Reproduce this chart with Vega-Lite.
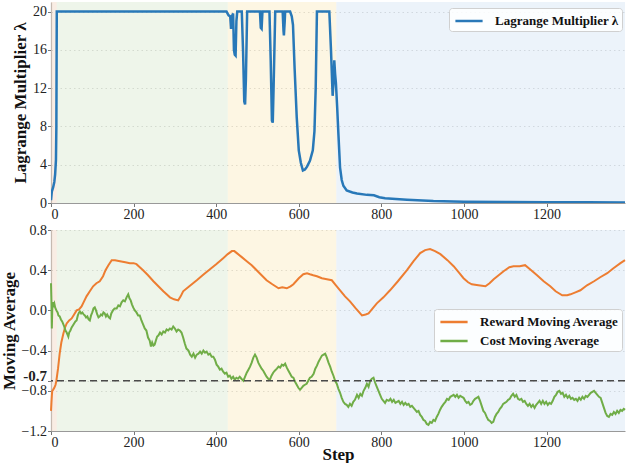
{
  "$schema": "https://vega.github.io/schema/vega-lite/v6.json",
  "padding": {"left": 0, "top": 2, "right": 0, "bottom": 0},
  "background": "white",
  "spacing": 1,
  "datasets": {
    "regions": [
      {"start": 0, "end": 14, "phase": "warmup"},
      {"start": 14, "end": 428, "phase": "explore"},
      {"start": 428, "end": 691, "phase": "transition"},
      {"start": 691, "end": 1390, "phase": "converge"}
    ],
    "lambda": [
      {"step": 0, "value": 0.3}, {"step": 2, "value": 1.2}, {"step": 5, "value": 1.6}, {"step": 8, "value": 2.2}, {"step": 10, "value": 3.0}, {"step": 12, "value": 4.5}, {"step": 13, "value": 8}, {"step": 14, "value": 20},
      {"step": 425, "value": 20}, {"step": 430, "value": 19.6}, {"step": 434, "value": 19.5}, {"step": 436, "value": 18.2}, {"step": 438, "value": 19.5}, {"step": 441, "value": 19.8}, {"step": 443, "value": 16}, {"step": 445, "value": 15.5}, {"step": 447, "value": 15.4}, {"step": 449, "value": 19}, {"step": 451, "value": 20},
      {"step": 462, "value": 20}, {"step": 465, "value": 16}, {"step": 468, "value": 10.6}, {"step": 470, "value": 10.3}, {"step": 472, "value": 13}, {"step": 475, "value": 20},
      {"step": 506, "value": 20}, {"step": 508, "value": 18.3}, {"step": 510, "value": 18.2}, {"step": 512, "value": 20},
      {"step": 529, "value": 20}, {"step": 532, "value": 15}, {"step": 535, "value": 8.6}, {"step": 537, "value": 8.4}, {"step": 539, "value": 12}, {"step": 543, "value": 20},
      {"step": 561, "value": 20}, {"step": 563, "value": 18}, {"step": 564, "value": 17.5}, {"step": 566, "value": 19}, {"step": 567, "value": 20},
      {"step": 579, "value": 20}, {"step": 583, "value": 19.5}, {"step": 586, "value": 18.6}, {"step": 590, "value": 14}, {"step": 595, "value": 9}, {"step": 600, "value": 5.5}, {"step": 605, "value": 4.2}, {"step": 610, "value": 3.4}, {"step": 615, "value": 3.5}, {"step": 620, "value": 3.8}, {"step": 627, "value": 4.4}, {"step": 634, "value": 5.5}, {"step": 638, "value": 7.5}, {"step": 641, "value": 12}, {"step": 644, "value": 20},
      {"step": 674, "value": 20}, {"step": 678, "value": 16}, {"step": 682, "value": 11.2}, {"step": 684, "value": 12.5}, {"step": 686, "value": 14.9}, {"step": 688, "value": 13.5}, {"step": 690, "value": 12.5}, {"step": 693, "value": 10}, {"step": 696, "value": 7.2}, {"step": 700, "value": 3.7}, {"step": 704, "value": 2.4}, {"step": 708, "value": 1.8}, {"step": 716, "value": 1.3}, {"step": 730, "value": 1.1}, {"step": 741, "value": 1.0}, {"step": 765, "value": 0.85}, {"step": 782, "value": 0.8}, {"step": 795, "value": 0.6}, {"step": 809, "value": 0.5}, {"step": 835, "value": 0.42}, {"step": 862, "value": 0.35}, {"step": 900, "value": 0.25}, {"step": 926, "value": 0.2}, {"step": 1000, "value": 0.13}, {"step": 1100, "value": 0.1}, {"step": 1200, "value": 0.08}, {"step": 1300, "value": 0.07}, {"step": 1390, "value": 0.06}
    ],
    "reward": [
      {"step": 0, "value": -1.0}, {"step": 1, "value": -0.92}, {"step": 2, "value": -0.85}, {"step": 3, "value": -0.8}, {"step": 5, "value": -0.79}, {"step": 8, "value": -0.77}, {"step": 11, "value": -0.74}, {"step": 13, "value": -0.7}, {"step": 17, "value": -0.58}, {"step": 21, "value": -0.43}, {"step": 25, "value": -0.32}, {"step": 30, "value": -0.23}, {"step": 34, "value": -0.17}, {"step": 38, "value": -0.13}, {"step": 44, "value": -0.1}, {"step": 50, "value": -0.08}, {"step": 56, "value": -0.04}, {"step": 62, "value": 0.0}, {"step": 68, "value": 0.01}, {"step": 74, "value": 0.04}, {"step": 80, "value": 0.09}, {"step": 86, "value": 0.14}, {"step": 94, "value": 0.19}, {"step": 102, "value": 0.24}, {"step": 110, "value": 0.27}, {"step": 118, "value": 0.29}, {"step": 126, "value": 0.34}, {"step": 132, "value": 0.4}, {"step": 139, "value": 0.45}, {"step": 147, "value": 0.5}, {"step": 155, "value": 0.5}, {"step": 167, "value": 0.49}, {"step": 180, "value": 0.48}, {"step": 191, "value": 0.47}, {"step": 200, "value": 0.47}, {"step": 207, "value": 0.46}, {"step": 215, "value": 0.43}, {"step": 223, "value": 0.4}, {"step": 235, "value": 0.35}, {"step": 248, "value": 0.29}, {"step": 260, "value": 0.24}, {"step": 272, "value": 0.19}, {"step": 280, "value": 0.16}, {"step": 288, "value": 0.13}, {"step": 298, "value": 0.11}, {"step": 308, "value": 0.1}, {"step": 314, "value": 0.14}, {"step": 320, "value": 0.19}, {"step": 335, "value": 0.24}, {"step": 353, "value": 0.3}, {"step": 370, "value": 0.36}, {"step": 385, "value": 0.41}, {"step": 400, "value": 0.46}, {"step": 417, "value": 0.52}, {"step": 428, "value": 0.56}, {"step": 438, "value": 0.59}, {"step": 444, "value": 0.59}, {"step": 450, "value": 0.57}, {"step": 462, "value": 0.53}, {"step": 474, "value": 0.49}, {"step": 486, "value": 0.45}, {"step": 498, "value": 0.4}, {"step": 510, "value": 0.35}, {"step": 522, "value": 0.3}, {"step": 536, "value": 0.26}, {"step": 551, "value": 0.22}, {"step": 560, "value": 0.23}, {"step": 571, "value": 0.22}, {"step": 580, "value": 0.24}, {"step": 587, "value": 0.26}, {"step": 600, "value": 0.32}, {"step": 611, "value": 0.36}, {"step": 620, "value": 0.37}, {"step": 627, "value": 0.36}, {"step": 635, "value": 0.35}, {"step": 644, "value": 0.34}, {"step": 656, "value": 0.32}, {"step": 668, "value": 0.31}, {"step": 680, "value": 0.3}, {"step": 690, "value": 0.25}, {"step": 700, "value": 0.2}, {"step": 712, "value": 0.14}, {"step": 724, "value": 0.09}, {"step": 738, "value": 0.02}, {"step": 753, "value": -0.05}, {"step": 762, "value": -0.04}, {"step": 769, "value": -0.03}, {"step": 779, "value": 0.02}, {"step": 789, "value": 0.07}, {"step": 805, "value": 0.13}, {"step": 821, "value": 0.2}, {"step": 840, "value": 0.29}, {"step": 862, "value": 0.4}, {"step": 878, "value": 0.49}, {"step": 894, "value": 0.57}, {"step": 906, "value": 0.6}, {"step": 918, "value": 0.61}, {"step": 930, "value": 0.59}, {"step": 943, "value": 0.56}, {"step": 960, "value": 0.5}, {"step": 975, "value": 0.44}, {"step": 987, "value": 0.38}, {"step": 999, "value": 0.32}, {"step": 1010, "value": 0.28}, {"step": 1019, "value": 0.26}, {"step": 1035, "value": 0.25}, {"step": 1052, "value": 0.24}, {"step": 1062, "value": 0.27}, {"step": 1072, "value": 0.31}, {"step": 1084, "value": 0.35}, {"step": 1096, "value": 0.39}, {"step": 1110, "value": 0.43}, {"step": 1120, "value": 0.44}, {"step": 1135, "value": 0.44}, {"step": 1148, "value": 0.45}, {"step": 1160, "value": 0.41}, {"step": 1177, "value": 0.35}, {"step": 1193, "value": 0.29}, {"step": 1209, "value": 0.24}, {"step": 1222, "value": 0.19}, {"step": 1238, "value": 0.15}, {"step": 1250, "value": 0.15}, {"step": 1258, "value": 0.16}, {"step": 1270, "value": 0.18}, {"step": 1282, "value": 0.2}, {"step": 1298, "value": 0.25}, {"step": 1315, "value": 0.29}, {"step": 1330, "value": 0.33}, {"step": 1347, "value": 0.37}, {"step": 1362, "value": 0.42}, {"step": 1379, "value": 0.47}, {"step": 1390, "value": 0.5}
    ],
    "cost": [
      {"step": 0, "value": 0.27}, {"step": 1, "value": 0.1}, {"step": 2, "value": -0.18}, {"step": 3, "value": 0.0}, {"step": 4, "value": 0.08}, {"step": 6, "value": 0.05}, {"step": 8, "value": 0.07}, {"step": 10, "value": 0.03}, {"step": 13, "value": 0.0}, {"step": 16, "value": -0.02}, {"step": 18, "value": -0.05}, {"step": 21, "value": -0.06}, {"step": 24, "value": -0.09}, {"step": 27, "value": -0.11}, {"step": 29, "value": -0.13}, {"step": 32, "value": -0.16}, {"step": 35, "value": -0.2}, {"step": 38, "value": -0.22}, {"step": 40, "value": -0.24}, {"step": 42, "value": -0.26}, {"step": 44, "value": -0.22}, {"step": 47, "value": -0.2}, {"step": 50, "value": -0.17}, {"step": 53, "value": -0.15}, {"step": 56, "value": -0.13}, {"step": 59, "value": -0.11}, {"step": 62, "value": -0.1}, {"step": 65, "value": -0.05}, {"step": 68, "value": -0.02}, {"step": 70, "value": -0.01}, {"step": 73, "value": -0.03}, {"step": 76, "value": -0.02}, {"step": 79, "value": -0.04}, {"step": 82, "value": -0.05}, {"step": 85, "value": -0.07}, {"step": 88, "value": -0.06}, {"step": 91, "value": -0.09}, {"step": 94, "value": -0.1}, {"step": 97, "value": -0.05}, {"step": 100, "value": -0.02}, {"step": 103, "value": 0.02}, {"step": 106, "value": 0.03}, {"step": 109, "value": 0.0}, {"step": 112, "value": -0.04}, {"step": 115, "value": -0.07}, {"step": 118, "value": -0.06}, {"step": 121, "value": -0.04}, {"step": 124, "value": -0.05}, {"step": 127, "value": -0.02}, {"step": 130, "value": -0.03}, {"step": 133, "value": -0.06}, {"step": 136, "value": -0.04}, {"step": 140, "value": -0.07}, {"step": 143, "value": -0.08}, {"step": 146, "value": -0.03}, {"step": 150, "value": 0.0}, {"step": 154, "value": 0.02}, {"step": 159, "value": 0.02}, {"step": 163, "value": 0.05}, {"step": 167, "value": 0.04}, {"step": 171, "value": 0.08}, {"step": 175, "value": 0.1}, {"step": 179, "value": 0.09}, {"step": 183, "value": 0.13}, {"step": 187, "value": 0.16}, {"step": 190, "value": 0.12}, {"step": 193, "value": 0.1}, {"step": 196, "value": 0.06}, {"step": 199, "value": 0.03}, {"step": 203, "value": 0.0}, {"step": 207, "value": -0.02}, {"step": 211, "value": -0.05}, {"step": 215, "value": -0.05}, {"step": 219, "value": -0.1}, {"step": 223, "value": -0.14}, {"step": 227, "value": -0.18}, {"step": 231, "value": -0.2}, {"step": 235, "value": -0.27}, {"step": 239, "value": -0.3}, {"step": 242, "value": -0.36}, {"step": 245, "value": -0.32}, {"step": 248, "value": -0.35}, {"step": 251, "value": -0.34}, {"step": 254, "value": -0.3}, {"step": 257, "value": -0.26}, {"step": 260, "value": -0.25}, {"step": 264, "value": -0.22}, {"step": 268, "value": -0.24}, {"step": 272, "value": -0.21}, {"step": 276, "value": -0.22}, {"step": 280, "value": -0.19}, {"step": 284, "value": -0.2}, {"step": 288, "value": -0.18}, {"step": 292, "value": -0.19}, {"step": 296, "value": -0.16}, {"step": 300, "value": -0.18}, {"step": 304, "value": -0.21}, {"step": 308, "value": -0.19}, {"step": 312, "value": -0.2}, {"step": 316, "value": -0.22}, {"step": 320, "value": -0.27}, {"step": 324, "value": -0.33}, {"step": 328, "value": -0.38}, {"step": 333, "value": -0.4}, {"step": 337, "value": -0.44}, {"step": 341, "value": -0.46}, {"step": 345, "value": -0.43}, {"step": 349, "value": -0.47}, {"step": 353, "value": -0.44}, {"step": 357, "value": -0.43}, {"step": 361, "value": -0.41}, {"step": 365, "value": -0.43}, {"step": 369, "value": -0.4}, {"step": 373, "value": -0.42}, {"step": 377, "value": -0.41}, {"step": 381, "value": -0.44}, {"step": 385, "value": -0.43}, {"step": 389, "value": -0.46}, {"step": 393, "value": -0.46}, {"step": 397, "value": -0.49}, {"step": 401, "value": -0.54}, {"step": 405, "value": -0.56}, {"step": 409, "value": -0.59}, {"step": 413, "value": -0.58}, {"step": 417, "value": -0.61}, {"step": 421, "value": -0.63}, {"step": 425, "value": -0.62}, {"step": 429, "value": -0.66}, {"step": 433, "value": -0.65}, {"step": 437, "value": -0.68}, {"step": 441, "value": -0.66}, {"step": 445, "value": -0.69}, {"step": 449, "value": -0.67}, {"step": 453, "value": -0.68}, {"step": 457, "value": -0.66}, {"step": 461, "value": -0.68}, {"step": 466, "value": -0.7}, {"step": 470, "value": -0.66}, {"step": 474, "value": -0.62}, {"step": 478, "value": -0.59}, {"step": 482, "value": -0.56}, {"step": 486, "value": -0.52}, {"step": 490, "value": -0.47}, {"step": 494, "value": -0.44}, {"step": 498, "value": -0.47}, {"step": 502, "value": -0.52}, {"step": 506, "value": -0.55}, {"step": 510, "value": -0.58}, {"step": 514, "value": -0.6}, {"step": 518, "value": -0.63}, {"step": 522, "value": -0.66}, {"step": 526, "value": -0.68}, {"step": 530, "value": -0.69}, {"step": 534, "value": -0.65}, {"step": 538, "value": -0.62}, {"step": 542, "value": -0.6}, {"step": 547, "value": -0.58}, {"step": 551, "value": -0.56}, {"step": 555, "value": -0.57}, {"step": 559, "value": -0.54}, {"step": 563, "value": -0.55}, {"step": 567, "value": -0.53}, {"step": 571, "value": -0.57}, {"step": 575, "value": -0.6}, {"step": 579, "value": -0.63}, {"step": 583, "value": -0.66}, {"step": 587, "value": -0.67}, {"step": 591, "value": -0.71}, {"step": 595, "value": -0.74}, {"step": 599, "value": -0.77}, {"step": 603, "value": -0.79}, {"step": 607, "value": -0.77}, {"step": 611, "value": -0.75}, {"step": 615, "value": -0.74}, {"step": 619, "value": -0.73}, {"step": 623, "value": -0.7}, {"step": 627, "value": -0.67}, {"step": 631, "value": -0.66}, {"step": 636, "value": -0.63}, {"step": 640, "value": -0.58}, {"step": 644, "value": -0.55}, {"step": 648, "value": -0.51}, {"step": 652, "value": -0.48}, {"step": 656, "value": -0.45}, {"step": 660, "value": -0.44}, {"step": 664, "value": -0.43}, {"step": 668, "value": -0.47}, {"step": 672, "value": -0.52}, {"step": 676, "value": -0.56}, {"step": 680, "value": -0.61}, {"step": 684, "value": -0.65}, {"step": 688, "value": -0.7}, {"step": 692, "value": -0.73}, {"step": 696, "value": -0.78}, {"step": 700, "value": -0.82}, {"step": 704, "value": -0.87}, {"step": 708, "value": -0.91}, {"step": 712, "value": -0.93}, {"step": 716, "value": -0.94}, {"step": 720, "value": -0.96}, {"step": 724, "value": -0.93}, {"step": 728, "value": -0.95}, {"step": 732, "value": -0.91}, {"step": 736, "value": -0.89}, {"step": 741, "value": -0.84}, {"step": 745, "value": -0.87}, {"step": 749, "value": -0.83}, {"step": 753, "value": -0.85}, {"step": 757, "value": -0.8}, {"step": 761, "value": -0.77}, {"step": 765, "value": -0.73}, {"step": 769, "value": -0.76}, {"step": 773, "value": -0.7}, {"step": 777, "value": -0.68}, {"step": 781, "value": -0.67}, {"step": 785, "value": -0.72}, {"step": 789, "value": -0.76}, {"step": 793, "value": -0.8}, {"step": 797, "value": -0.84}, {"step": 801, "value": -0.88}, {"step": 805, "value": -0.9}, {"step": 809, "value": -0.92}, {"step": 813, "value": -0.89}, {"step": 818, "value": -0.9}, {"step": 822, "value": -0.88}, {"step": 826, "value": -0.91}, {"step": 830, "value": -0.89}, {"step": 834, "value": -0.92}, {"step": 838, "value": -0.91}, {"step": 842, "value": -0.9}, {"step": 846, "value": -0.93}, {"step": 850, "value": -0.91}, {"step": 854, "value": -0.94}, {"step": 858, "value": -0.92}, {"step": 862, "value": -0.94}, {"step": 866, "value": -0.93}, {"step": 870, "value": -0.96}, {"step": 874, "value": -0.95}, {"step": 878, "value": -0.97}, {"step": 882, "value": -0.99}, {"step": 886, "value": -1.01}, {"step": 890, "value": -1.0}, {"step": 894, "value": -1.04}, {"step": 898, "value": -1.06}, {"step": 902, "value": -1.09}, {"step": 906, "value": -1.1}, {"step": 910, "value": -1.13}, {"step": 914, "value": -1.14}, {"step": 918, "value": -1.11}, {"step": 922, "value": -1.12}, {"step": 926, "value": -1.09}, {"step": 930, "value": -1.1}, {"step": 934, "value": -1.06}, {"step": 938, "value": -1.03}, {"step": 942, "value": -0.99}, {"step": 946, "value": -0.96}, {"step": 951, "value": -0.93}, {"step": 955, "value": -0.91}, {"step": 959, "value": -0.88}, {"step": 963, "value": -0.89}, {"step": 967, "value": -0.86}, {"step": 971, "value": -0.85}, {"step": 975, "value": -0.84}, {"step": 979, "value": -0.86}, {"step": 983, "value": -0.84}, {"step": 987, "value": -0.87}, {"step": 991, "value": -0.85}, {"step": 995, "value": -0.86}, {"step": 999, "value": -0.87}, {"step": 1003, "value": -0.9}, {"step": 1007, "value": -0.92}, {"step": 1011, "value": -0.91}, {"step": 1015, "value": -0.94}, {"step": 1019, "value": -0.93}, {"step": 1023, "value": -0.9}, {"step": 1027, "value": -0.88}, {"step": 1031, "value": -0.87}, {"step": 1035, "value": -0.86}, {"step": 1039, "value": -0.9}, {"step": 1043, "value": -0.95}, {"step": 1047, "value": -1.0}, {"step": 1051, "value": -1.02}, {"step": 1055, "value": -1.06}, {"step": 1059, "value": -1.09}, {"step": 1063, "value": -1.1}, {"step": 1067, "value": -1.12}, {"step": 1071, "value": -1.11}, {"step": 1075, "value": -1.06}, {"step": 1079, "value": -1.03}, {"step": 1083, "value": -1.01}, {"step": 1087, "value": -0.98}, {"step": 1091, "value": -0.96}, {"step": 1095, "value": -0.93}, {"step": 1099, "value": -0.92}, {"step": 1103, "value": -0.91}, {"step": 1107, "value": -0.89}, {"step": 1111, "value": -0.88}, {"step": 1115, "value": -0.85}, {"step": 1119, "value": -0.83}, {"step": 1123, "value": -0.86}, {"step": 1127, "value": -0.84}, {"step": 1131, "value": -0.88}, {"step": 1135, "value": -0.89}, {"step": 1139, "value": -0.88}, {"step": 1143, "value": -0.91}, {"step": 1147, "value": -0.9}, {"step": 1151, "value": -0.93}, {"step": 1155, "value": -0.95}, {"step": 1159, "value": -0.93}, {"step": 1163, "value": -0.96}, {"step": 1167, "value": -0.94}, {"step": 1171, "value": -0.97}, {"step": 1175, "value": -0.94}, {"step": 1179, "value": -0.92}, {"step": 1183, "value": -0.9}, {"step": 1187, "value": -0.93}, {"step": 1191, "value": -0.9}, {"step": 1195, "value": -0.93}, {"step": 1199, "value": -0.91}, {"step": 1203, "value": -0.94}, {"step": 1207, "value": -0.92}, {"step": 1211, "value": -0.93}, {"step": 1215, "value": -0.9}, {"step": 1219, "value": -0.86}, {"step": 1223, "value": -0.84}, {"step": 1227, "value": -0.81}, {"step": 1231, "value": -0.8}, {"step": 1235, "value": -0.83}, {"step": 1239, "value": -0.82}, {"step": 1243, "value": -0.86}, {"step": 1247, "value": -0.84}, {"step": 1251, "value": -0.87}, {"step": 1255, "value": -0.85}, {"step": 1259, "value": -0.88}, {"step": 1263, "value": -0.87}, {"step": 1267, "value": -0.89}, {"step": 1271, "value": -0.88}, {"step": 1275, "value": -0.9}, {"step": 1279, "value": -0.87}, {"step": 1283, "value": -0.89}, {"step": 1287, "value": -0.86}, {"step": 1291, "value": -0.88}, {"step": 1295, "value": -0.85}, {"step": 1299, "value": -0.86}, {"step": 1303, "value": -0.84}, {"step": 1307, "value": -0.82}, {"step": 1311, "value": -0.81}, {"step": 1315, "value": -0.8}, {"step": 1319, "value": -0.82}, {"step": 1323, "value": -0.84}, {"step": 1327, "value": -0.86}, {"step": 1331, "value": -0.87}, {"step": 1335, "value": -0.92}, {"step": 1339, "value": -0.97}, {"step": 1343, "value": -1.02}, {"step": 1347, "value": -1.05}, {"step": 1351, "value": -1.06}, {"step": 1355, "value": -1.03}, {"step": 1359, "value": -1.04}, {"step": 1363, "value": -1.01}, {"step": 1367, "value": -1.03}, {"step": 1371, "value": -1.0}, {"step": 1375, "value": -1.02}, {"step": 1379, "value": -0.99}, {"step": 1383, "value": -1.0}, {"step": 1387, "value": -0.98}, {"step": 1390, "value": -0.99}
    ],
    "threshold": [{"value": -0.7}]
  },
  "vconcat": [
    {
      "width": 574,
      "height": 201,
      "layer": [
        {
          "data": {"name": "regions"},
          "mark": {"type": "rect", "fillOpacity": 0.5},
          "encoding": {
            "x": {"field": "start", "type": "quantitative", "scale": {"domain": [0, 1390], "nice": false, "zero": false},
              "axis": {"values": [0, 200, 400, 600, 800, 1000, 1200], "format": "d", "title": null, "grid": false}},
            "x2": {"field": "end"},
            "fill": {"field": "phase", "type": "nominal", "legend": null,
              "scale": {"domain": ["warmup", "explore", "transition", "converge"], "range": ["#f3dbc9", "#ddebd5", "#fbedc7", "#d9e7f5"]}}
          }
        },
        {
          "data": {"name": "lambda"},
          "mark": {"type": "line", "strokeWidth": 2.5, "clip": true},
          "encoding": {
            "x": {"field": "step", "type": "quantitative"},
            "y": {"field": "value", "type": "quantitative", "scale": {"domain": [0, 21], "nice": false},
              "axis": {"values": [0, 4, 8, 12, 16, 20], "title": "Lagrange Multiplier λ", "grid": true}},
            "stroke": {"datum": "Lagrange Multiplier λ", "type": "nominal",
              "scale": {"domain": ["Lagrange Multiplier λ"], "range": ["#2878b8"]},
              "legend": {"orient": "none", "legendX": 398, "legendY": 6, "title": null}}
          }
        }
      ]
    },
    {
      "width": 574,
      "height": 201,
      "layer": [
        {
          "data": {"name": "regions"},
          "mark": {"type": "rect", "fillOpacity": 0.5},
          "encoding": {
            "x": {"field": "start", "type": "quantitative", "scale": {"domain": [0, 1390], "nice": false, "zero": false},
              "axis": {"values": [0, 200, 400, 600, 800, 1000, 1200], "format": "d", "title": "Step", "grid": false}},
            "x2": {"field": "end"},
            "fill": {"field": "phase", "type": "nominal", "legend": null,
              "scale": {"domain": ["warmup", "explore", "transition", "converge"], "range": ["#f3dbc9", "#ddebd5", "#fbedc7", "#d9e7f5"]}}
          }
        },
        {
          "data": {"name": "reward"},
          "mark": {"type": "line", "strokeWidth": 2},
          "encoding": {
            "x": {"field": "step", "type": "quantitative"},
            "y": {"field": "value", "type": "quantitative", "scale": {"domain": [-1.2, 0.8], "nice": false},
              "axis": {"values": [0.8, 0.4, 0, -0.4, -0.7, -0.8, -1.2], "title": "Moving Average", "grid": true, "labelOverlap": false, "labelBound": false,
                "labelExpr": "datum.value == -0.7 ? '-0.7' : format(datum.value, '.1f')",
                "labelOffset": {"condition": {"test": "datum.value == -0.7", "value": -5}, "value": 0},
                "labelFontWeight": {"condition": {"test": "datum.value == -0.7", "value": "bold"}, "value": "normal"},
                "labelFontSize": {"condition": {"test": "datum.value == -0.7", "value": 15}, "value": 14}}},
            "stroke": {"datum": "Reward Moving Average", "type": "nominal",
              "scale": {"domain": ["Reward Moving Average", "Cost Moving Average"], "range": ["#ed7d31", "#70ad47"]},
              "legend": {"orient": "none", "legendX": 383, "legendY": 79, "title": null}}
          }
        },
        {
          "data": {"name": "cost"},
          "mark": {"type": "line", "strokeWidth": 2},
          "encoding": {
            "x": {"field": "step", "type": "quantitative"},
            "y": {"field": "value", "type": "quantitative",
              "axis": {"values": [0.8, 0.4, 0, -0.4, -0.7, -0.8, -1.2], "title": "Moving Average", "grid": true, "labelOverlap": false, "labelBound": false,
                "labelExpr": "datum.value == -0.7 ? '-0.7' : format(datum.value, '.1f')",
                "labelOffset": {"condition": {"test": "datum.value == -0.7", "value": -5}, "value": 0},
                "labelFontWeight": {"condition": {"test": "datum.value == -0.7", "value": "bold"}, "value": "normal"},
                "labelFontSize": {"condition": {"test": "datum.value == -0.7", "value": 15}, "value": 14}}},
            "stroke": {"datum": "Cost Moving Average", "type": "nominal"}
          }
        },
        {
          "data": {"name": "threshold"},
          "mark": {"type": "rule", "color": "#4a4a4a", "strokeWidth": 1.5, "strokeDash": [7, 4]},
          "encoding": {
            "y": {"field": "value", "type": "quantitative",
              "axis": {"values": [0.8, 0.4, 0, -0.4, -0.7, -0.8, -1.2], "title": "Moving Average", "grid": true, "labelOverlap": false, "labelBound": false,
                "labelExpr": "datum.value == -0.7 ? '-0.7' : format(datum.value, '.1f')",
                "labelOffset": {"condition": {"test": "datum.value == -0.7", "value": -5}, "value": 0},
                "labelFontWeight": {"condition": {"test": "datum.value == -0.7", "value": "bold"}, "value": "normal"},
                "labelFontSize": {"condition": {"test": "datum.value == -0.7", "value": 15}, "value": 14}}}
          }
        }
      ]
    }
  ],
  "resolve": {"scale": {"stroke": "independent", "y": "independent"}, "legend": {"stroke": "independent"}},
  "config": {
    "font": "Liberation Serif",
    "view": {"stroke": null},
    "axis": {
      "labelFont": "Liberation Serif", "labelFontSize": 14, "labelColor": "#222222", "labelOverlap": false,
      "titleFont": "Liberation Serif", "titleFontSize": 17, "titleFontWeight": "bold", "titleColor": "#111111",
      "domainColor": "#999999", "domainWidth": 1.2, "tickColor": "#777777", "tickSize": 3.5, "labelPadding": 1, "titlePadding": 3,
      "gridColor": "#c8c8c8", "gridDash": [1.5, 3], "gridWidth": 1
    },
    "axisX": {"titlePadding": -3},
    "legend": {
      "labelFont": "Liberation Serif", "labelFontSize": 13, "labelFontWeight": "bold", "labelColor": "#111111",
      "symbolType": "M-1.6,0H1.6", "symbolSize": 289, "symbolStrokeWidth": 2.5, "symbolOffset": 7,
      "fillColor": "rgba(255,255,255,0.85)", "strokeColor": "#d0d0d0", "cornerRadius": 3, "padding": 3, "labelOffset": 16, "rowPadding": 2
    }
  }
}
